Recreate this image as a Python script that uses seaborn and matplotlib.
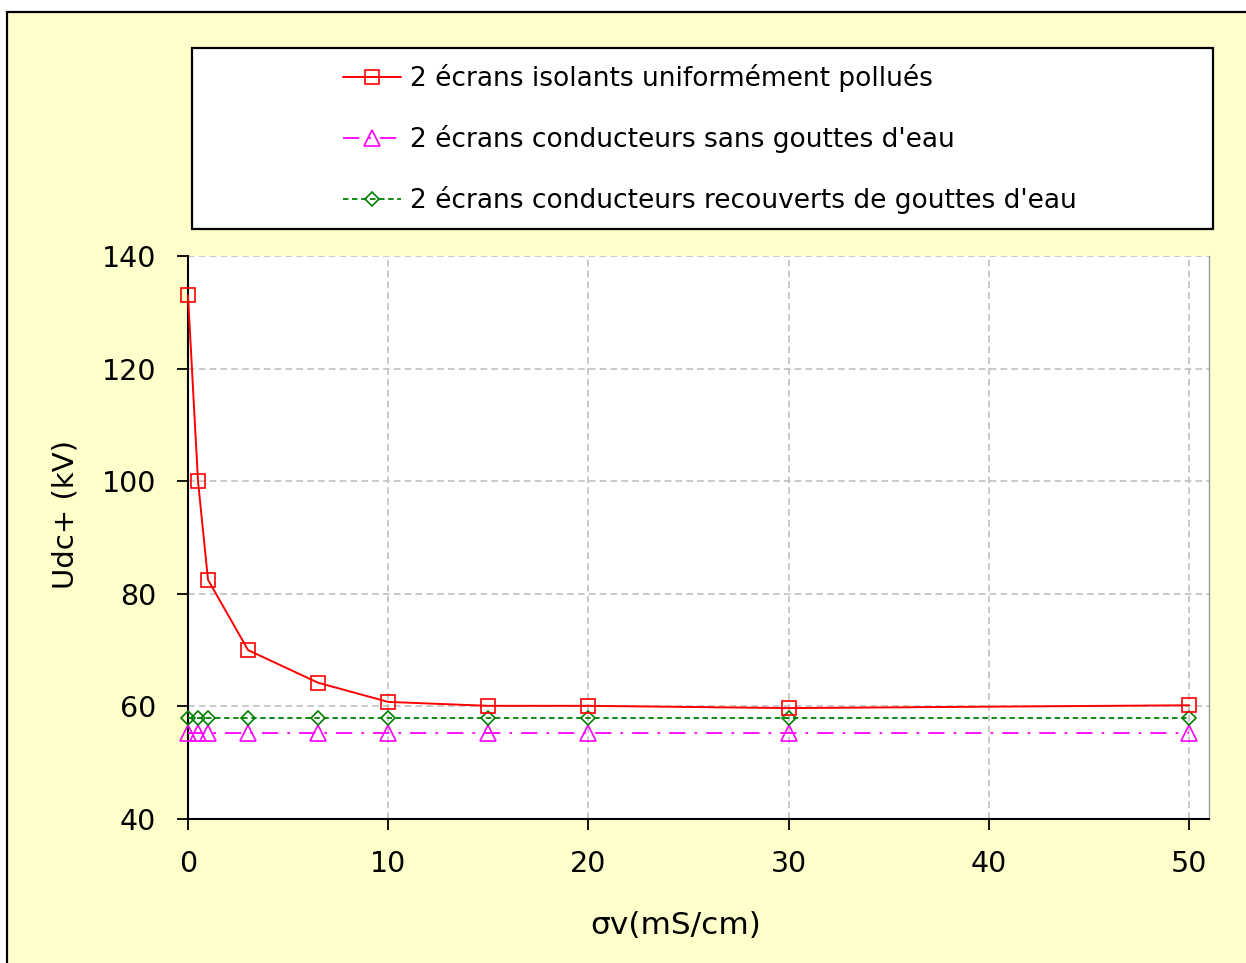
import matplotlib
matplotlib.use("Agg")
import matplotlib.pyplot as plt
from matplotlib.patches import Rectangle
import seaborn as sns

sns.set_style("white")
plt.rcParams['font.family'] = ['DejaVu Sans']
plt.rcParams['text.color'] = 'black'
plt.rcParams['axes.labelcolor'] = 'black'
plt.rcParams['xtick.color'] = 'black'
plt.rcParams['ytick.color'] = 'black'

# ---- data ----
sigma_v = [0, 0.5, 1, 3, 6.5, 10, 15, 20, 30, 50]
udc_isolants = [133, 100, 82.5, 70, 64.2, 60.8, 60.1, 60.1, 59.7, 60.2]
udc_cond_sans = [55.3, 55.3, 55.3, 55.3, 55.3, 55.3, 55.3, 55.3, 55.3, 55.3]
udc_cond_gouttes = [58, 58, 58, 58, 58, 58, 58, 58, 58, 58]

labels = [
    "2 écrans isolants uniformément pollués",
    "2 écrans conducteurs sans gouttes d'eau",
    "2 écrans conducteurs recouverts de gouttes d'eau",
]
xticks = [0, 10, 20, 30, 40, 50]
yticks = [40, 60, 80, 100, 120, 140]

W, H = 1246, 963
fig = plt.figure(figsize=(W / 100, H / 100), dpi=100)
fig.patch.set_facecolor("white")

# outer yellow panel
fig.add_artist(Rectangle((7 / W, -0.05), 1.2, 1 - 12 / H + 0.05,
                         transform=fig.transFigure, facecolor="#FFFFCC",
                         edgecolor="black", lw=1.6, zorder=0))
# legend frame
fig.add_artist(Rectangle((192 / W, 1 - 229 / H), (1213 - 192) / W, (229 - 48) / H,
                         transform=fig.transFigure, facecolor="white",
                         edgecolor="black", lw=1.6, zorder=1))

ax = fig.add_axes([188 / W, 1 - 819 / H, (1209 - 188) / W, (819 - 256) / H])
ax.set_facecolor("white")

sns.lineplot(x=sigma_v, y=udc_cond_sans, ax=ax, color="#FF00FF", lw=1.3,
             linestyle=(0, (9, 5, 1.5, 5)), marker="^", markersize=11,
             markerfacecolor="none", markeredgecolor="#FF00FF",
             markeredgewidth=1.2, label=labels[1], zorder=3, clip_on=False)
sns.lineplot(x=sigma_v, y=udc_cond_gouttes, ax=ax, color="#008000", lw=1.3,
             linestyle=(0, (3, 2)), marker="D", markersize=7.5,
             markerfacecolor="none", markeredgecolor="#008000",
             markeredgewidth=1.2, label=labels[2], zorder=4, clip_on=False)
sns.lineplot(x=sigma_v, y=udc_isolants, ax=ax, color="#FF0000", lw=1.4,
             linestyle="-", marker="s", markersize=9.5,
             markerfacecolor="none", markeredgecolor="#FF0000",
             markeredgewidth=1.2, label=labels[0], zorder=5, clip_on=False)

if ax.get_legend() is not None:
    ax.get_legend().remove()

ax.set_xlim(0, 51)
ax.set_ylim(40, 140)
ax.set_xticks(xticks)
ax.set_yticks(yticks)
ax.set_axisbelow(True)
ax.grid(True, color="#C0C0C0", linestyle=(0, (4, 2.5)), lw=1.2)

for s in ["left", "bottom"]:
    ax.spines[s].set_color("black")
    ax.spines[s].set_linewidth(1.5)
ax.spines["top"].set_visible(False)
ax.spines["right"].set_color("#9A9A9A")
ax.spines["right"].set_linewidth(1.0)

ax.tick_params(axis="both", direction="out", length=8, width=1.3,
               colors="black", labelsize=20.5)
ax.tick_params(axis="y", pad=15, left=True)
ax.tick_params(axis="x", pad=14, bottom=True)

ax.set_ylabel("Udc+ (kV)", fontsize=21)
ax.yaxis.set_label_coords(-0.106, 0.54)
ax.set_xlabel("σv(mS/cm)", fontsize=22.5)
ax.xaxis.set_label_coords(0.478, -0.163)

handles, labs = ax.get_legend_handles_labels()
order = [labs.index(l) for l in labels]
fig.legend([handles[i] for i in order], [labs[i] for i in order],
           loc="upper left", bbox_to_anchor=(343 / W, 1 - 64 / H),
           frameon=False, borderpad=0, borderaxespad=0, handlelength=2.2,
           handletextpad=0.35, labelspacing=1.26, fontsize=19)

fig.savefig("out.png", dpi=100)
